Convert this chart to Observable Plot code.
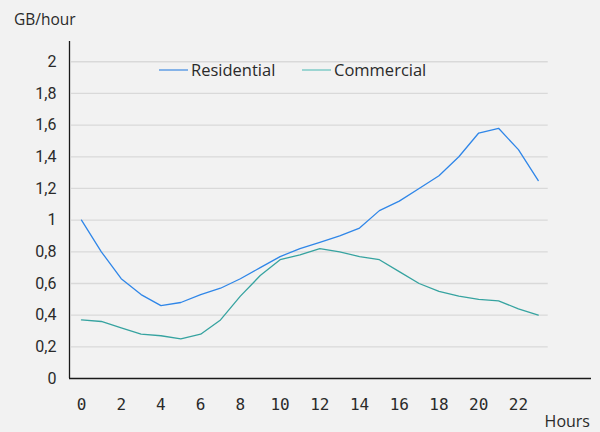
<!DOCTYPE html>
<html>
<head>
<meta charset="utf-8">
<script src="https://cdn.jsdelivr.net/npm/d3@7"></script>
<script src="https://cdn.jsdelivr.net/npm/@observablehq/plot@0.6"></script>
<style>
  html, body { margin: 0; padding: 0; background: #f2f2f2; }
  #chart { width: 600px; height: 432px; overflow: hidden; }
</style>
</head>
<body>
<div id="chart"></div>
<script>
const hours = [0,1,2,3,4,5,6,7,8,9,10,11,12,13,14,15,16,17,18,19,20,21,22,23];
const residential = [1.00,0.80,0.63,0.53,0.46,0.48,0.53,0.57,0.63,0.70,0.77,0.82,0.86,0.90,0.95,1.06,1.12,1.20,1.28,1.40,1.55,1.58,1.445,1.25];
const commercial = [0.37,0.36,0.32,0.28,0.27,0.25,0.28,0.37,0.52,0.65,0.75,0.78,0.82,0.80,0.77,0.75,0.675,0.60,0.55,0.52,0.50,0.49,0.44,0.40];
const seriesNames = ["Residential", "Commercial"];
const seriesColors = ["#2f86e8", "#36a3a0"];
const legendColors = ["#4a90e2", "#6cc4c0"];
const yTicks = [0,0.2,0.4,0.6,0.8,1,1.2,1.4,1.6,1.8,2];
const xTicks = [0,2,4,6,8,10,12,14,16,18,20,22];
const yTitle = "GB/hour";
const xTitle = "Hours";

const rows = [];
hours.forEach((h, i) => {
  rows.push({hour: h, value: residential[i], series: seriesNames[0]});
  rows.push({hour: h, value: commercial[i], series: seriesNames[1]});
});

const xDomain = [-0.604, 25.68];
const yDomain = [0, 2.128];
const fmt = d => String(d).replace(".", ",");

const chart = Plot.plot({
  width: 600,
  height: 432,
  marginLeft: 69,
  marginRight: 9,
  marginTop: 41,
  marginBottom: 54,
  style: {background: "#f2f2f2", overflow: "visible"},
  x: {domain: xDomain, axis: null, label: null},
  y: {domain: yDomain, axis: null, label: null},
  color: {domain: seriesNames, range: seriesColors},
  marks: [
    Plot.ruleY(yTicks.filter(d => d > 0), {x1: -0.5, x2: 23.5, stroke: "#d9d9d9", strokeWidth: 1.3}),
    Plot.ruleX([xDomain[0]], {y1: yDomain[0], y2: yDomain[1], stroke: "#1a1a1a", strokeWidth: 1.3}),
    Plot.ruleY([0], {x1: xDomain[0], x2: xDomain[1], stroke: "#1a1a1a", strokeWidth: 1.3}),
    Plot.line(rows, {x: "hour", y: "value", z: "series", stroke: "series", strokeWidth: 1.3}),
    Plot.axisY(yTicks, {label: null, tickSize: 0, tickPadding: 13, tickFormat: fmt, fontFamily: "Roboto", fontSize: 16, fill: "#2a2a2a"}),
    Plot.axisX(xTicks, {label: null, tickSize: 0, tickPadding: 20, fontFamily: "DejaVu Sans Mono", fontSize: 16, fill: "#2a2a2a"})
  ]
});

document.getElementById("chart").appendChild(chart);

const svg = d3.select(chart);
const g = svg.append("g").attr("text-anchor", "start");
g.append("text").text(yTitle)
  .attr("x", 14).attr("y", 25)
  .attr("font-family", "Open Sans").attr("font-size", 15.5).attr("fill", "#2a2a2a");
g.append("text").text(xTitle)
  .attr("x", 590).attr("y", 427).attr("text-anchor", "end")
  .attr("font-family", "Open Sans").attr("font-size", 16).attr("fill", "#2a2a2a");

const legendPos = [159, 302];
seriesNames.forEach((name, i) => {
  const x0 = legendPos[i];
  g.append("line").attr("x1", x0).attr("x2", x0 + 29).attr("y1", 70).attr("y2", 70)
    .attr("stroke", legendColors[i]).attr("stroke-width", 1.3);
  g.append("text").text(name).attr("x", x0 + 32).attr("y", 70).attr("dy", "0.35em")
    .attr("font-family", "Open Sans").attr("font-size", 16.5).attr("fill", "#2a2a2a");
});
</script>
</body>
</html>
